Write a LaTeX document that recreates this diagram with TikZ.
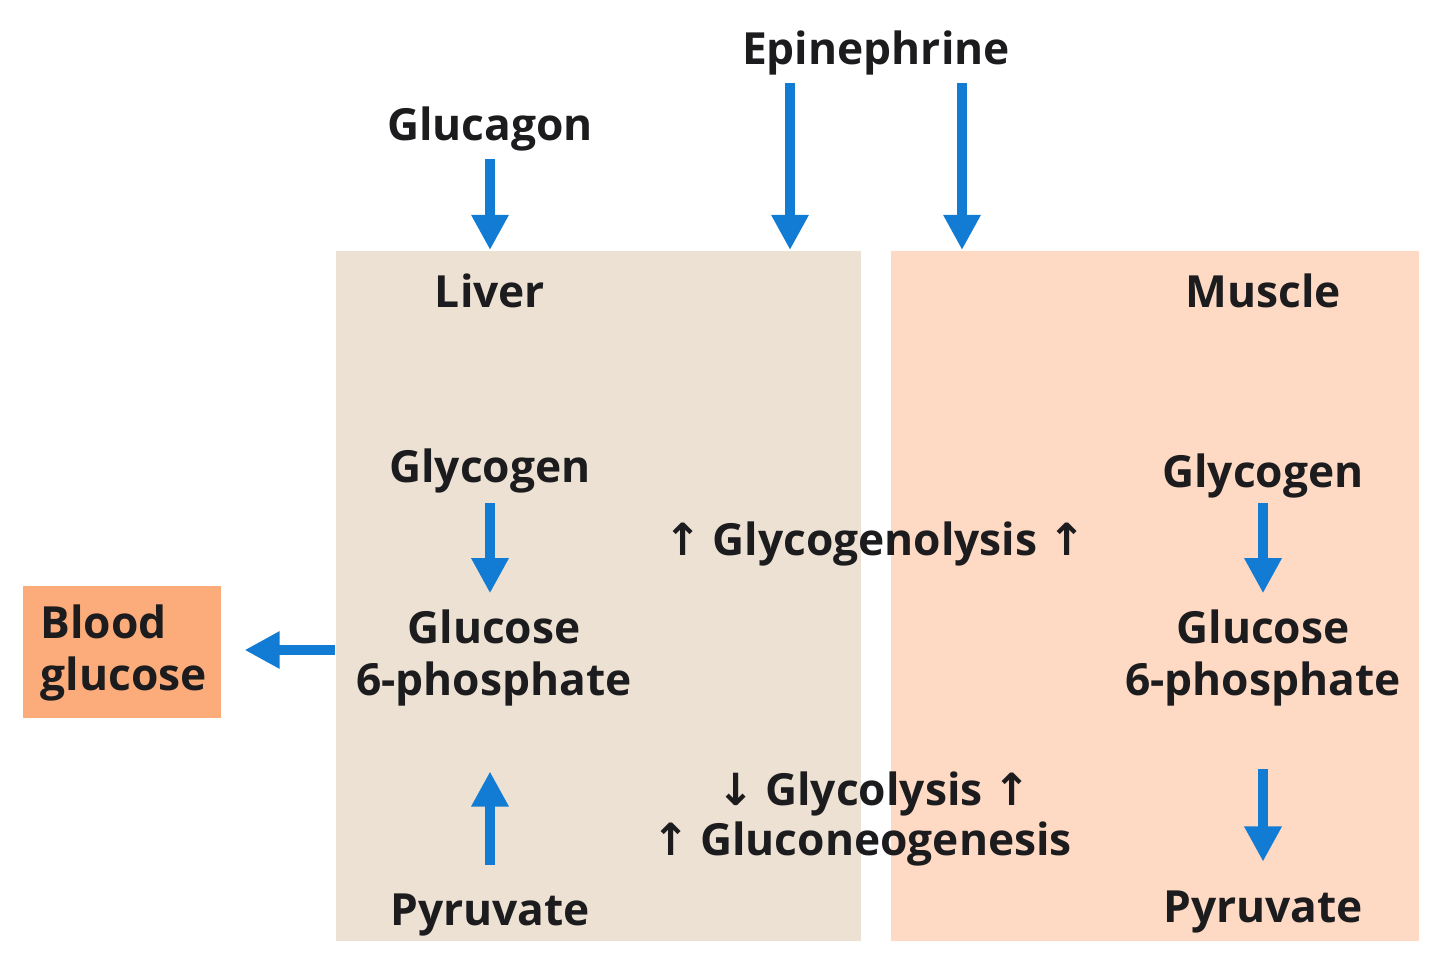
\documentclass[tikz,border=0pt]{standalone}
\usepackage{fontspec}
\setmainfont{Open Sans}
\newfontfamily\arrowfont{DejaVu Sans}
\usepackage{xcolor}
\usetikzlibrary{arrows.meta, positioning}

\definecolor{LiverTan}{RGB}{236,225,211}
\definecolor{MusclePeach}{RGB}{254,217,196}
\definecolor{BloodOrange}{RGB}{251,172,122}
\definecolor{FlowBlue}{RGB}{18,124,212}
\definecolor{InkBlack}{RGB}{28,28,30}

\newcommand{\upar}{{\arrowfont\char"2191}\hspace{0.25em}}
\newcommand{\downar}{{\arrowfont\char"2193}\hspace{0.25em}}
\newcommand{\uparend}{\hspace{0.25em}{\arrowfont\char"2191}}

\begin{document}
\begin{tikzpicture}[
        x=0.01cm, y=-0.01cm,
        >={Triangle[length=10pt,width=10pt]},
        flow/.style = {
            ->,
            draw=FlowBlue,
            line width=2.8pt
        },
        organ/.style = {
            rectangle,
            anchor=north west,
            inner sep=0pt
        },
        label/.style = {
            font=\fontsize{12.6}{14.6}\selectfont\bfseries,
            text=InkBlack,
            inner sep=0pt,
            anchor=base,
            align=center
        }
    ]
        \useasboundingbox (0,0) rectangle (1440,973);

        % tissue boxes
        \node [organ, fill=LiverTan, minimum width=5.25cm, minimum height=6.9cm]    (liver)  at (335,250)  {};
        \node [organ, fill=MusclePeach, minimum width=5.28cm, minimum height=6.9cm] (muscle) at (890,250)  {};
        \node [organ, fill=BloodOrange, minimum width=1.98cm, minimum height=1.32cm] (blood) at (22,585)  {};

        % hormones
        \node [label]  (epi)      at (876,65)   {Epinephrine};
        \node [label]  (glucagon) at (490,140)  {Glucagon};

        % liver side
        \node [label]  (liverlbl) at (490,307)  {Liver};
        \node [label]  (glyL)     at (490,482)  {Glycogen};
        \node [label]  (g6pL)     at (494,695)  {Glucose\\6-phosphate};
        \node [label]  (pyrL)     at (490,925)  {Pyruvate};

        % muscle side
        \node [label]  (musclelbl) at (1263,307) {Muscle};
        \node [label]  (glyM)      at (1263,487) {Glycogen};
        \node [label]  (g6pM)      at (1263,695) {Glucose\\6-phosphate};
        \node [label]  (pyrM)      at (1263,922) {Pyruvate};

        % blood
        \node [label, anchor=base west, align=left] (bloodlbl) at (40,690) {Blood\\glucose};

        % pathway changes
        \node [label]  (lysis)  at (875,555)  {\upar Glycogenolysis\uparend};
        \node [label]  (glyco)  at (874,805)  {\downar Glycolysis\uparend};
        \node [label]  (neo)    at (862,855)  {\upar Gluconeogenesis};

        \path
            ([yshift=-0.08cm]glucagon.south) edge [flow]  (glucagon.south |- liver.north)
            ([yshift=-0.07cm]epi.south -| 790,0) edge [flow] (790,0 |- liver.north)
            ([yshift=-0.07cm]epi.south -| 962,0) edge [flow] (962,0 |- muscle.north)
            ([yshift=-0.1cm]glyL.south) edge [flow, shorten >=0.16cm] (glyL.south |- g6pL.north)
            ([yshift=0.28cm]pyrL.north) edge [flow, shorten >=0.65cm] (pyrL.north |- g6pL.south)
            ([yshift=-0.05cm]glyM.south) edge [flow, shorten >=0.16cm] (glyM.south |- g6pM.north)
            ([yshift=-0.63cm]g6pM.south) edge [flow, shorten >=0.28cm] (g6pM.south |- pyrM.north)
            (liver.west |- 0,650) edge [flow, shorten >=0.23cm] (blood.east |- 0,650)
        ;
    \end{tikzpicture}
\end{document}
